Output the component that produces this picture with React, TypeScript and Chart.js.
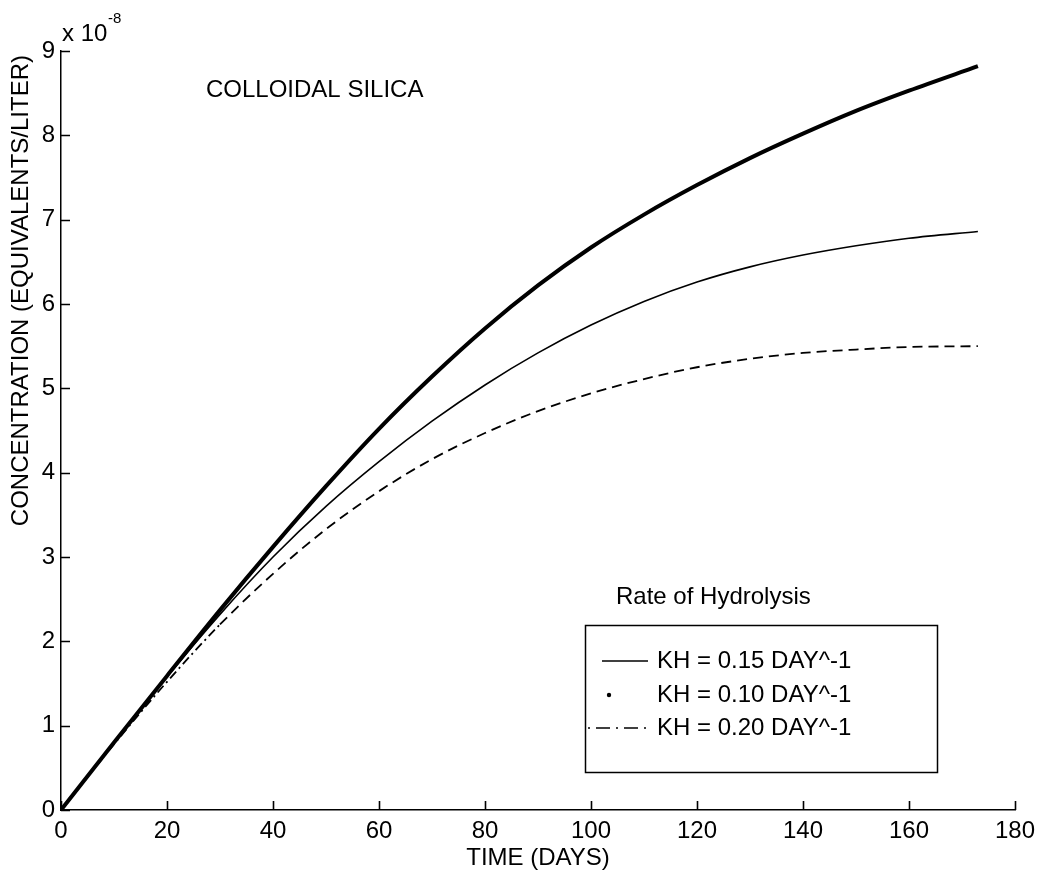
import React, { useEffect, useRef } from "react";
import { Chart, registerables } from "chart.js";

Chart.register(...registerables);

// Time (days)
const days = [0, 10, 20, 30, 40, 50, 60, 70, 80, 90, 100, 110, 120, 130, 140, 150, 160, 173];
// Concentration (x 1e-8 equivalents/liter)
const kh010 = [0, 0.8, 1.59, 2.37, 3.12, 3.84, 4.52, 5.14, 5.71, 6.22, 6.67, 7.06, 7.41, 7.73, 8.02, 8.29, 8.53, 8.82];
const kh015 = [0, 0.8, 1.58, 2.32, 3.0, 3.6, 4.13, 4.61, 5.04, 5.42, 5.75, 6.03, 6.26, 6.44, 6.58, 6.69, 6.78, 6.86];
const kh020 = [0, 0.78, 1.52, 2.2, 2.8, 3.33, 3.78, 4.16, 4.47, 4.73, 4.94, 5.11, 5.25, 5.35, 5.42, 5.46, 5.49, 5.5];

const xTicks = [0, 20, 40, 60, 80, 100, 120, 140, 160, 180];
const yTicks = [0, 1, 2, 3, 4, 5, 6, 7, 8, 9];

const legendTitle = "Rate of Hydrolysis";
const legendLabels = ["KH = 0.15 DAY^-1", "KH = 0.10 DAY^-1", "KH = 0.20 DAY^-1"];
const annotation = "COLLOIDAL SILICA";
const xTitle = "TIME (DAYS)";
const yTitle = "CONCENTRATION (EQUIVALENTS/LITER)";

const FONT = "'Liberation Sans', Arial, Helvetica, sans-serif";
const FS = 24;

const toPts = (ys: number[]) => days.map((d, i) => ({ x: d, y: ys[i] }));

const decorPlugin = {
  id: "decor",
  afterDraw(chart: any) {
    const { ctx, chartArea, scales } = chart;
    const xs = scales.x;
    const ys = scales.y;
    ctx.save();
    // inward ticks
    ctx.strokeStyle = "#000";
    ctx.lineWidth = 1.6;
    ctx.beginPath();
    xTicks.forEach((v) => {
      const px = Math.round(xs.getPixelForValue(v)) + 0.5;
      ctx.moveTo(px, chartArea.bottom);
      ctx.lineTo(px, chartArea.bottom - 9);
    });
    yTicks.forEach((v) => {
      const py = Math.round(ys.getPixelForValue(v)) + 0.5;
      ctx.moveTo(chartArea.left, py);
      ctx.lineTo(chartArea.left + 9, py);
    });
    ctx.stroke();

    ctx.fillStyle = "#000";
    ctx.textBaseline = "middle";
    ctx.textAlign = "left";

    // y axis title (rotated)
    ctx.font = `${FS}px ${FONT}`;
    const tw = ctx.measureText(yTitle).width;
    ctx.save();
    ctx.translate(21, 55 + tw / 2);
    ctx.rotate(-Math.PI / 2);
    ctx.textAlign = "center";
    ctx.fillText(yTitle, 0, 0);
    ctx.restore();

    // exponent label
    ctx.font = `${FS}px ${FONT}`;
    ctx.fillText("x 10", 62, 34);
    ctx.font = `15px ${FONT}`;
    ctx.fillText("-8", 108, 19);

    // annotation
    ctx.font = `${FS}px ${FONT}`;
    ctx.fillText(annotation, 206, 90);

    // legend
    ctx.fillText(legendTitle, 616, 597);
    ctx.lineWidth = 1.5;
    ctx.strokeRect(585.5, 625.5, 352, 147);
    const rowsY = [661, 695, 728];
    legendLabels.forEach((t, i) => ctx.fillText(t, 657, rowsY[i]));
    ctx.lineWidth = 1.3;
    ctx.beginPath();
    ctx.moveTo(602, rowsY[0]);
    ctx.lineTo(648, rowsY[0]);
    ctx.stroke();
    ctx.beginPath();
    ctx.arc(609, rowsY[1], 2.2, 0, Math.PI * 2);
    ctx.fill();
    ctx.setLineDash([2, 6, 14, 6]);
    ctx.beginPath();
    ctx.moveTo(588, rowsY[2]);
    ctx.lineTo(648, rowsY[2]);
    ctx.stroke();
    ctx.setLineDash([]);
    ctx.restore();
  },
};

export default function App() {
  const ref = useRef<HTMLCanvasElement | null>(null);

  useEffect(() => {
    document.body.style.margin = "0";
    const canvas = ref.current;
    if (!canvas) return;
    const chart = new Chart(canvas, {
      type: "line",
      data: {
        datasets: [
          {
            label: legendLabels[1],
            data: toPts(kh010),
            borderColor: "#000",
            borderWidth: 4,
            pointRadius: 0,
            cubicInterpolationMode: "monotone",
            fill: false,
          },
          {
            label: legendLabels[0],
            data: toPts(kh015),
            borderColor: "#000",
            borderWidth: 1.6,
            pointRadius: 0,
            cubicInterpolationMode: "monotone",
            fill: false,
          },
          {
            label: legendLabels[2],
            data: toPts(kh020),
            borderColor: "#000",
            borderWidth: 1.8,
            borderDash: [10, 6],
            segment: {
              borderDash: (c: any) => (c.p0.parsed.x < 30 ? [9, 4, 2, 4] : undefined),
            },
            pointRadius: 0,
            cubicInterpolationMode: "monotone",
            fill: false,
          },
        ],
      },
      options: {
        animation: false,
        responsive: false,
        devicePixelRatio: 1,
        layout: { padding: { left: 0, right: 29, top: 51, bottom: 0 } },
        plugins: {
          legend: { display: false },
          tooltip: { enabled: false },
          title: { display: false },
        },
        scales: {
          x: {
            type: "linear",
            min: 0,
            max: 180,
            afterFit: (s: any) => {
              s.height = 66;
            },
            afterBuildTicks: (s: any) => {
              s.ticks = xTicks.map((v) => ({ value: v }));
            },
            grid: { display: false, drawTicks: false },
            border: { display: true, color: "#000", width: 1.5 },
            ticks: {
              color: "#000",
              padding: 7,
              maxRotation: 0,
              autoSkip: false,
              font: { family: FONT, size: FS },
            },
            title: {
              display: true,
              text: xTitle,
              color: "#000",
              font: { family: FONT, size: FS },
              padding: { top: 0, bottom: 3 },
            },
          },
          y: {
            type: "linear",
            min: 0,
            max: 9,
            afterFit: (s: any) => {
              s.width = 61;
            },
            afterBuildTicks: (s: any) => {
              s.ticks = yTicks.map((v) => ({ value: v }));
            },
            grid: { display: false, drawTicks: false },
            border: { display: true, color: "#000", width: 1.5 },
            ticks: {
              color: "#000",
              padding: 6,
              autoSkip: false,
              font: { family: FONT, size: FS },
            },
            title: { display: false },
          },
        },
      },
      plugins: [decorPlugin],
    } as any);
    return () => chart.destroy();
  }, []);

  return (
    <div style={{ position: "absolute", left: 0, top: 0, width: 1044, height: 876, background: "#fff" }}>
      <canvas ref={ref} width={1044} height={876} style={{ display: "block" }} />
    </div>
  );
}
